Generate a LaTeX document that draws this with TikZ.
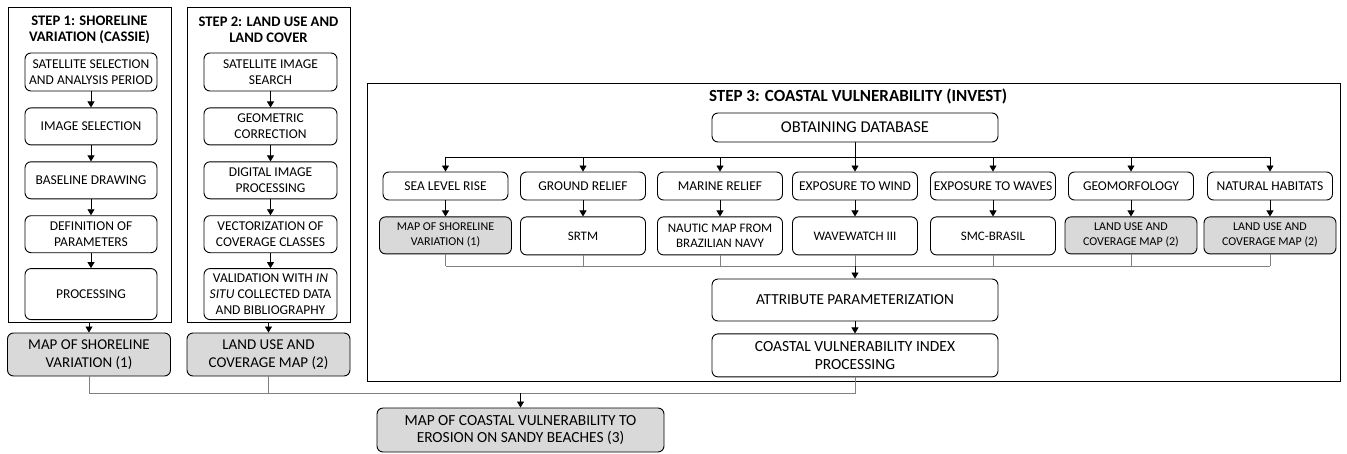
\documentclass[tikz,border=0pt]{standalone}
\usepackage{fontspec}
\setmainfont{Carlito}
\usetikzlibrary{arrows.meta,positioning}

\begin{document}
\begin{tikzpicture}[
  x=1pt, y=1pt,
  font=\fontsize{13.5}{15.7}\selectfont,
  frame/.style={draw, line width=1pt, minimum width=163pt, minimum height=315pt},
  box/.style={draw, rounded corners=6pt, align=center, line width=0.9pt, inner sep=1pt, minimum width=132pt, minimum height=37pt, fill=white},
  var/.style={box, minimum width=125pt, minimum height=28pt, font=\fontsize{13.5}{15}\selectfont},
  src/.style={var, minimum height=38pt, font=\fontsize{13}{15}\selectfont},
  wide/.style={box, minimum width=286pt},
  result/.style={box, fill=black!15},
  title/.style={align=center, font=\fontsize{14.6}{16.5}\selectfont\bfseries},
  arrow/.style={-{Triangle[width=7pt,length=6pt]}, line width=0.8pt},
  bus/.style={line width=0.8pt, draw=black!50}
]
\useasboundingbox (0,0) rectangle (1347,-453);

% step 1
\node[frame] (step1) at (89.5,-164.5) {};
\node[title] at (89.5,-30) {STEP 1: SHORELINE\\VARIATION (CASSIE)};
\node[box, minimum height=38pt] (sat) at (91,-72) {SATELLITE SELECTION\\AND ANALYSIS PERIOD};
\node[box, below=16pt of sat] (imgsel) {IMAGE SELECTION};
\node[box, below=16pt of imgsel] (baseline) {BASELINE DRAWING};
\node[box, below=16pt of baseline] (params) {DEFINITION OF\\PARAMETERS};
\node[box, below=15pt of params, minimum height=51pt] (proc) {PROCESSING};
\foreach \a/\b in {sat/imgsel, imgsel/baseline, baseline/params, params/proc}
  \draw[arrow] (\a) -- (\b);

% step 2
\node[frame] (step2) at (268.5,-164.5) {};
\node[title] at (268.5,-30) {STEP 2: LAND USE AND\\LAND COVER};
\node[box, minimum width=133pt, minimum height=38pt] (search) at (270.5,-72) {SATELLITE IMAGE\\SEARCH};
\node[box, minimum width=133pt, below=16pt of search] (geocor) {GEOMETRIC\\CORRECTION};
\node[box, minimum width=133pt, below=16pt of geocor] (dip) {DIGITAL IMAGE\\PROCESSING};
\node[box, minimum width=133pt, below=16pt of dip] (vector) {VECTORIZATION OF\\COVERAGE CLASSES};
\node[box, minimum width=133pt, below=15pt of vector, minimum height=51pt] (valid)
  {VALIDATION WITH \textit{IN}\\\textit{SITU} COLLECTED DATA\\AND BIBLIOGRAPHY};
\foreach \a/\b in {search/geocor, geocor/dip, dip/vector, vector/valid}
  \draw[arrow] (\a) -- (\b);

% outputs of steps 1 and 2
\node[result, minimum width=163pt, minimum height=43pt, font=\fontsize{15}{17.7}\selectfont] (map1) at (89,-354.5) {MAP OF SHORELINE\\VARIATION (1)};
\node[result, minimum width=163pt, minimum height=43pt, font=\fontsize{15}{17.7}\selectfont] (map2) at (268.5,-354.5) {LAND USE AND\\COVERAGE MAP (2)};
\draw[arrow] (step1.south -| map1) -- (map1);
\draw[arrow] (step2.south -| map2) -- (map2);

% step 3
\node[frame, minimum width=973pt, minimum height=298pt] (step3) at (853.5,-232) {};
\node[title, anchor=base, font=\fontsize{17}{18}\selectfont\bfseries] at (858,-101) {STEP 3: COASTAL VULNERABILITY (INVEST)};
\node[wide, minimum height=29pt, font=\fontsize{16.5}{18}\selectfont] (obtain) at (855,-127.5) {OBTAINING DATABASE};

\foreach \n/\x/\t in {slr/445.5/SEA LEVEL RISE, ground/583/GROUND RELIEF, marine/720/MARINE RELIEF,
    wind/855/EXPOSURE TO WIND, waves/993/EXPOSURE TO WAVES, geo/1131/GEOMORFOLOGY, habitat/1270/NATURAL HABITATS}
  \node[var] (\n) at (\x,-186) {\t};

\node[src, result, font=\fontsize{12}{15}\selectfont, below=16pt of slr] (slrsrc) {MAP OF SHORELINE\\VARIATION (1)};
\node[src, below=16pt of ground] (groundsrc) {SRTM};
\node[src, below=16pt of marine] (marinesrc) {NAUTIC MAP FROM\\BRAZILIAN NAVY};
\node[src, below=16pt of wind] (windsrc) {WAVEWATCH III};
\node[src, below=16pt of waves] (wavessrc) {SMC-BRASIL};
\node[src, result, font=\fontsize{12}{15}\selectfont, below=16pt of geo] (geosrc) {LAND USE AND\\COVERAGE MAP (2)};
\node[src, result, font=\fontsize{12}{15}\selectfont, below=16pt of habitat] (habitatsrc) {LAND USE AND\\COVERAGE MAP (2)};

\coordinate (fork) at (855,-157);
\coordinate (merge) at (855,-266);
\draw[line width=0.8pt] (obtain) -- (fork);
\draw[line width=0.8pt] (slr.north |- fork) -- (habitat.north |- fork);
\foreach \n in {slr, ground, marine, wind, waves, geo, habitat} {
  \draw[arrow] (\n.north |- fork) -- (\n);
  \draw[arrow] (\n) -- (\n src);
  \draw[bus] (\n src) -- (\n src.south |- merge);
}
\draw[bus] (slrsrc.south |- merge) -- (habitatsrc.south |- merge);

\node[wide, minimum height=42pt, font=\fontsize{15.3}{17}\selectfont] (attr) at (855,-300) {ATTRIBUTE PARAMETERIZATION};
\node[wide, minimum height=43pt, font=\fontsize{15.5}{18.5}\selectfont, below=12pt of attr] (cvi) {COASTAL VULNERABILITY INDEX\\PROCESSING};
\draw[arrow] (merge) -- (attr);
\draw[arrow] (attr) -- (cvi);

% final map
\node[result, minimum width=287pt, minimum height=44pt, font=\fontsize{15.4}{17.7}\selectfont] (final) at (520.5,-430)
  {MAP OF COASTAL VULNERABILITY TO\\EROSION ON SANDY BEACHES (3)};
\coordinate (join) at (520.5,-393);
\draw[bus] (map1) -- (map1.south |- join) -- (cvi.south |- join) -- (cvi);
\draw[bus] (map2) -- (map2.south |- join);
\draw[arrow] (join) -- (final);

\end{tikzpicture}
\end{document}
